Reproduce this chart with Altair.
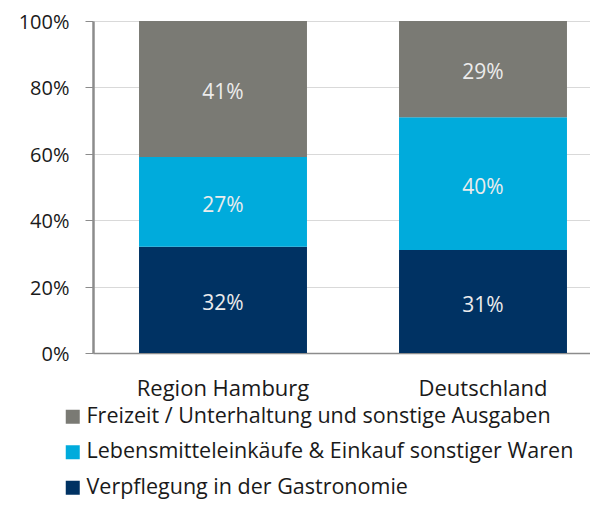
import altair as alt
import pandas as pd

regions = ["Region Hamburg", "Deutschland"]
categories = [
    "Verpflegung in der Gastronomie",
    "Lebensmitteleinkäufe & Einkauf sonstiger Waren",
    "Freizeit / Unterhaltung und sonstige Ausgaben",
]
hamburg = [32, 27, 41]
deutschland = [31, 40, 29]
colors = ["#003263", "#00abdc", "#7a7a74"]
y_ticks = [0, 20, 40, 60, 80, 100]

rows = []
for r, vals in zip(regions, [hamburg, deutschland]):
    for i, (c, v) in enumerate(zip(categories, vals)):
        rows.append({"region": r, "category": c, "value": v, "order": i})
df = pd.DataFrame(rows)

FONT = "Open Sans"
TXT = "#1a1a1a"

base = alt.Chart(df).transform_stack(
    stack="value", as_=["y0", "y1"], groupby=["region"],
    sort=[alt.SortField("order", order="ascending")]
).transform_calculate(mid="(datum.y0 + datum.y1) / 2")

x = alt.X(
    "region:N", sort=regions, title=None,
    scale=alt.Scale(range=[0, 520], paddingInner=0.354, paddingOuter=0.177),
    axis=alt.Axis(labelAngle=0, ticks=False, labelFontSize=22, labelPadding=25,
                  domainColor="#8c8c8c", domainWidth=1.5, labelColor=TXT,
                  labelFont=FONT),
)

bars = base.mark_bar(stroke=None).encode(
    x=x,
    y=alt.Y("y0:Q", title=None,
            scale=alt.Scale(domain=[0, 100], nice=False),
            axis=alt.Axis(values=y_ticks, labelExpr="datum.value + '%'",
                          labelFontSize=20, labelFont=FONT, labelColor=TXT,
                          labelOffset=1.5,
                          tickSize=8, tickColor="#8c8c8c", domainColor="#8c8c8c",
                          domainWidth=2.5, gridColor="#d9d9d9", labelPadding=16)),
    y2="y1:Q",
    color=alt.Color("category:N",
                    scale=alt.Scale(domain=categories[::-1], range=colors[::-1]),
                    legend=alt.Legend(orient="none", legendX=-31, legendY=385,
                                      title=None, symbolType="square",
                                      symbolSize=196, symbolStrokeWidth=0,
                                      labelFontSize=21.5, labelFont=FONT,
                                      labelColor=TXT, rowPadding=12.5,
                                      labelOffset=3, labelLimit=0)),
)

labels = base.mark_text(fontSize=21, font=FONT, color="#ececec", dy=4).encode(
    x=alt.X("region:N", sort=regions),
    y=alt.Y("mid:Q"),
    text=alt.Text("label:N"),
).transform_calculate(label="datum.value + '%'")

chart = (bars + labels).properties(
    width=497, height=332,
    autosize=alt.AutoSizeParams(type="none"),
    padding={"left": 85, "top": 13, "right": 0, "bottom": 148},
).configure_view(stroke=None)

chart.save("out.html", embed_options={"renderer": "svg", "actions": False})
